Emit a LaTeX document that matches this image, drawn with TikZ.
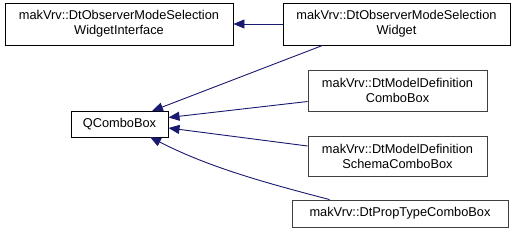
\documentclass[tikz,border=0pt]{standalone}
\usepackage{fontspec}
\setmainfont{Liberation Sans}
\usetikzlibrary{arrows.meta}
\definecolor{edgeblue}{HTML}{191970}
\definecolor{boxgray}{HTML}{404040}
\begin{document}
\begin{tikzpicture}[x=1pt,y=-1pt,
  cls/.style={draw=#1,line width=0.9pt,fill=white,inner sep=0pt,align=center,
    font=\fontsize{12.8}{15}\selectfont},
  cls/.default=black,
  inh/.style={draw=edgeblue,line width=0.9pt,-{Triangle[length=11pt,width=9pt]},color=edgeblue}]
\useasboundingbox (0,0) rectangle (517,233);
\node[cls,minimum width=228pt,minimum height=42pt] (wi) at (119,24) {makVrv::DtObserverModeSelection\\WidgetInterface};
\node[cls,minimum width=227pt,minimum height=42pt] (w) at (396.5,24) {makVrv::DtObserverModeSelection\\Widget};
\node[cls,minimum width=97pt,minimum height=26pt] (q) at (119.5,124) {QComboBox};
\node[cls=boxgray,minimum width=179pt,minimum height=41pt] (md) at (397.5,90.5) {makVrv::DtModelDefinition\\ComboBox};
\node[cls=boxgray,minimum width=179pt,minimum height=40pt] (sc) at (397.5,156) {makVrv::DtModelDefinition\\SchemaComboBox};
\node[cls=boxgray,minimum width=216pt,minimum height=27pt] (pt) at (400,213.5) {makVrv::DtPropTypeComboBox};
\coordinate (qa) at (152,111);
\coordinate (qb) at (168.5,117.5);
\coordinate (qc) at (168.5,128);
\coordinate (qd) at (150,137);
\draw[inh] (w.west) -- (wi.east);
\draw[inh] (w.south west) ++(40,0) coordinate (ws) -- (qa);
\draw[inh] (md.west) ++(0,11) coordinate (mds) -- (qb);
\draw[inh] (sc.west) ++(0,-10) coordinate (scs) -- (qc);
\draw[inh] (pt.north west) ++(38,0) coordinate (pts) .. controls (270,184) and (210,168) .. (qd);
\end{tikzpicture}
\end{document}
